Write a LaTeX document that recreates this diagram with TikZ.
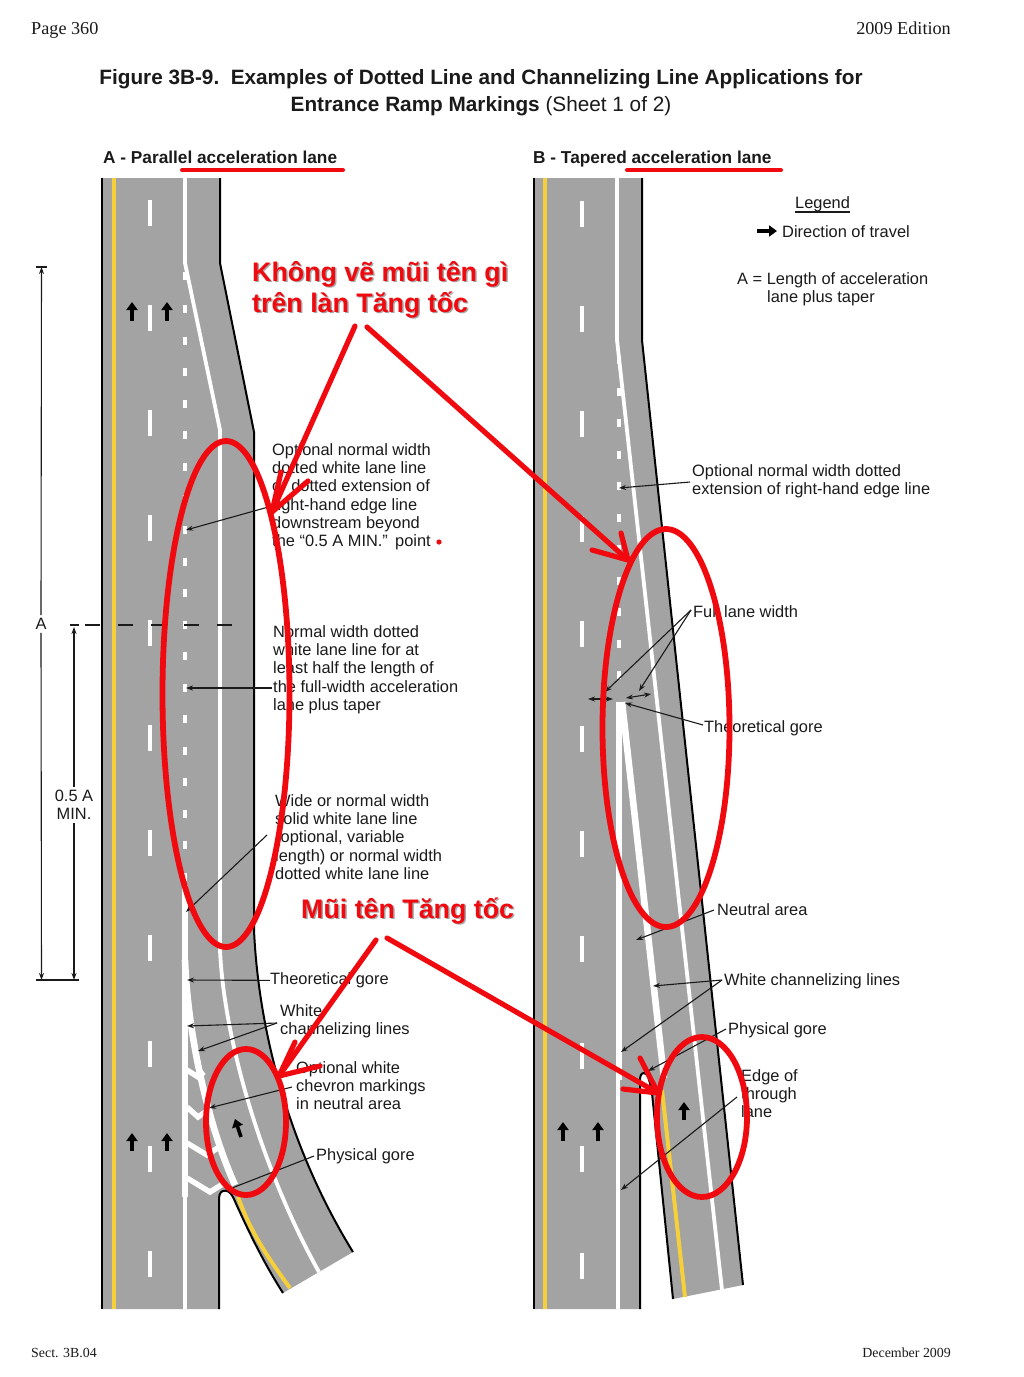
\documentclass[tikz,border=0pt]{standalone}
\usepackage{fontspec}
\setmainfont{Liberation Sans}
\newfontfamily\serifhead{Liberation Serif}
\usetikzlibrary{arrows.meta,calc}
\definecolor{roadgray}{HTML}{A3A3A3}
\definecolor{lineyellow}{HTML}{F6D03A}
\definecolor{markred}{HTML}{F00A0F}
\definecolor{ink}{HTML}{1A1A1A}
\tikzset{
  road/.style={fill=roadgray,draw=none},
  edgeline/.style={draw=black,line width=2pt},
  yellowline/.style={draw=lineyellow,line width=4pt},
  lanewhite/.style={draw=white,line width=3.8pt},
  channel/.style={draw=white,line width=6.6pt},
  chevron/.style={draw=white,line width=5.4pt,line join=miter},
  dashmark/.style={draw=white,line width=4pt},
  dotmark/.style={draw=white,line width=4.6pt},
  travel/.style={draw=black,line width=3.6pt,-{Triangle[length=8pt,width=11pt]}},
  leader/.style={draw=ink,line width=1.1pt,-{Stealth[length=7pt,width=5pt]}},
  dimline/.style={draw=ink,line width=1.1pt},
  dimend/.style={draw=ink,line width=1.1pt,{Stealth[length=7pt,width=5pt]}-},
  lab/.style={font=\fontsize{16.4}{18.2}\selectfont,text=ink,align=left,inner sep=0pt,anchor=north west},
  subhead/.style={font=\fontsize{17.25}{20}\selectfont\bfseries,text=ink,inner sep=0pt,anchor=base west},
  serifnote/.style={font=\fontsize{18.2}{20}\selectfont\serifhead,text=ink,inner sep=0pt},
  footnote/.style={font=\fontsize{13.9}{15}\selectfont\serifhead,text=ink,inner sep=0pt},
  redring/.style={draw=markred,line width=5.8pt},
  redstroke/.style={draw=markred,line width=5.2pt,line cap=round,line join=round},
  redunder/.style={draw=markred,line width=4pt,line cap=round},
  redtext/.style={font=\fontsize{26.8}{31}\selectfont\bfseries,text=markred,inner sep=0pt,anchor=base west},
  redshadow/.style={font=\fontsize{26.8}{31}\selectfont\bfseries,text=black!35,inner sep=0pt,anchor=base west},
}
\begin{document}
\begin{tikzpicture}[x=1pt,y=-1pt]
\useasboundingbox (0,0) rectangle (1024,1377);
\fill[white] (0,0) rectangle (1024,1377);
% ---------- headers
\node[serifnote,anchor=base west] (page) at (31,34) {Page 360};
\node[serifnote,anchor=base east] (edition) at (951,34) {2009 Edition};
\node[font=\fontsize{20.75}{26.6}\selectfont\bfseries,text=ink,inner sep=0pt,align=center,anchor=north] (title) at (481,69.5)
  {Figure 3B-9.\ \ Examples of Dotted Line and Channelizing Line Applications for\\Entrance Ramp Markings {\mdseries (Sheet 1 of 2)}};
\node[subhead] (heada) at (103,163) {A - Parallel acceleration lane};
\node[subhead] (headb) at (533,163) {B - Tapered acceleration lane};
\node[footnote,anchor=base west] (sect) at (31,1357) {Sect. 3B.04};
\node[footnote,anchor=base east] (dec) at (951,1357) {December 2009};
% ---------- road A
\path[road] (102,178) -- (220,178) -- (220,263) -- (254,432) -- (254,930)
  .. controls (258,1020) and (284,1140) .. (353,1252) -- (283,1293)
  .. controls (262,1260) and (247,1228) .. (233,1197)
  .. controls (230,1191) and (226,1190) .. (223,1191)
  .. controls (220,1192) and (219,1195) .. (219,1200) -- (219,1309) -- (102,1309) -- cycle;
\draw[yellowline] (114,178) -- (114,1309);
\draw[yellowline] (238,1197) .. controls (248,1225) and (262,1250) .. (290,1288);
\foreach \y in {200,305,410,515,620,725,830,935,1041,1146,1251}
  \draw[dashmark] (150,\y) -- (150,\y+26);
\draw[lanewhite] (185,178) -- (185,263) -- (220,430) -- (220,950)
  .. controls (224,1040) and (262,1170) .. (319,1272);
\foreach \y in {272,305,337,368,400,431,463,495,526,558,589,621,652,684,715,747,778,810,841,873}
  \draw[dotmark] (185,\y) -- (185,\y+8);
\draw[channel] (185,885) -- (185,1197);
\draw[lanewhite] (185,1197) -- (185,1309);
\draw[channel] (185,960) .. controls (188,1040) and (210,1130) .. (235,1185);
\draw[chevron] (187,1070) -- (198,1077) -- (204,1072);
\draw[chevron] (187,1107) -- (198,1117) -- (211,1108);
\draw[chevron] (187,1143) -- (207,1155) -- (219,1147);
\draw[chevron] (187,1178) -- (210,1192) -- (226,1182);
\draw[edgeline] (102,178) -- (102,1309);
\draw[edgeline] (220,178) -- (220,263) -- (254,432) -- (254,930)
  .. controls (258,1020) and (284,1140) .. (353,1252);
\draw[edgeline] (283,1293) .. controls (262,1260) and (247,1228) .. (233,1197)
  .. controls (230,1191) and (226,1190) .. (223,1191)
  .. controls (220,1192) and (219,1195) .. (219,1200) -- (219,1309);
\foreach \x in {132,167}{
  \draw[travel] (\x,321) -- (\x,302);
  \draw[travel] (\x,1151) -- (\x,1133);
}
\draw[travel] (241,1137) -- (235,1119);
% ---------- road B
\path[road] (534,178) -- (642,178) -- (642,340) -- (743,1285) -- (673,1299)
  -- (652,1093) .. controls (650,1082) and (648,1073) .. (644,1073)
  .. controls (641,1073) and (640,1076) .. (640,1081) -- (640,1309) -- (534,1309) -- cycle;
\draw[yellowline] (545,178) -- (545,1309);
\draw[yellowline] (662,1090) -- (685,1297);
\foreach \y in {201,306,411,516,621,726,831,936,1043,1146,1253}
  \draw[dashmark] (582,\y) -- (582,\y+26);
\draw[lanewhite] (617,178) -- (617,340) -- (722,1290);
\foreach \y in {356,388,419,451,482,514,545,577,608,640,671}
  \draw[dotmark] (619,\y) -- (619,\y+8);
\draw[channel] (619,702) -- (619,1080);
\draw[lanewhite] (618,1080) -- (618,1309);
\draw[channel] (622,702) -- (664,1078);
\draw[edgeline] (534,178) -- (534,1309);
\draw[edgeline] (642,178) -- (642,340) -- (743,1285);
\draw[edgeline] (673,1299) -- (652,1093) .. controls (650,1082) and (648,1073) .. (644,1073)
  .. controls (641,1073) and (640,1076) .. (640,1081) -- (640,1309);
\foreach \x in {563,598}
  \draw[travel] (\x,1141) -- (\x,1122);
\draw[travel] (684,1120) -- (684,1102);
% ---------- dimensions
\node[font=\fontsize{16.4}{18.2}\selectfont,text=ink,inner sep=3pt] (dima) at (41,624) {A};
\node[font=\fontsize{16.4}{18.2}\selectfont,text=ink,inner sep=3pt,align=center] (dimhalf) at (74,805) {0.5 A\\MIN.};
\coordinate (atop) at (41.5,267);
\coordinate (abot) at (41.5,980);
\coordinate (htop) at (74,627);
\coordinate (hbot) at (74,980);
\draw[dimline] (36,267) -- (47,267);
\draw[dimline] (36,980) -- (79,980);
\draw[dimend] (atop) -- (dima.north);
\draw[dimend] (abot) -- (dima.south);
\draw[dimend] (htop) -- (dimhalf.north);
\draw[dimend] (hbot) -- (dimhalf.south);
\draw[dimline] (70,625) -- (79,625);
\draw[dimline,dash pattern=on 15pt off 18pt] (85,625) -- (232,625);
% ---------- labels A
\node[lab] (a1) at (272,443.5) {Optional normal width\\dotted white lane line\\or dotted extension of\\right-hand edge line\\downstream beyond\\the “0.5 A MIN.”\ \,point};
\node[lab] (a2) at (273,625.5) {Normal width dotted\\white lane line for at\\least half the length of\\the full-width acceleration\\lane plus taper};
\node[lab] (a3) at (275,794.5) {Wide or normal width\\solid white lane line\\(optional, variable\\length) or normal width\\dotted white lane line};
\node[lab] (a4) at (270,972.5) {Theoretical gore};
\node[lab] (a5) at (280,1004.5) {White\\channelizing lines};
\node[lab] (a6) at (296,1061) {Optional white\\chevron markings\\in neutral area};
\node[lab] (a7) at (316,1148.5) {Physical gore};
\coordinate (a1s) at (272,506); \coordinate (a1e) at (186,530);
\coordinate (a2s) at (272,688); \coordinate (a2e) at (186,688);
\coordinate (a3s) at (267,835); \coordinate (a3e) at (186,912);
\coordinate (a4e) at (187,980);
\coordinate (a5s) at (277,1023); \coordinate (a5e) at (187,1026); \coordinate (a5f) at (198,1051);
\coordinate (a6s) at (292,1087); \coordinate (a6e) at (209,1108);
\coordinate (a7s) at (314,1156); \coordinate (a7e) at (232,1188);
\draw[leader] (a1s) -- (a1e);
\draw[leader] (a2s) -- (a2e);
\draw[leader] (a3s) -- (a3e);
\draw[leader] (a4.west) -- (a4e);
\draw[leader] (a5s) -- (a5e);
\draw[leader] (a5s) -- (a5f);
\draw[leader] (a6s) -- (a6e);
\draw[leader,-] (a7s) -- (a7e);
% ---------- labels B
\node[lab] (leg) at (795,196) {Legend};
\draw[draw=ink,line width=1.1pt] (795,212) -- (850,212);
\coordinate (ls) at (757,231); \coordinate (le) at (777,231);
\draw[travel] (ls) -- (le);
\node[lab] (l1) at (782,225) {Direction of travel};
\node[lab,align=left] (l2) at (737,272) {A = Length of acceleration\\\hspace*{30pt}lane plus taper};
\node[lab] (b1) at (692,464) {Optional normal width dotted\\extension of right-hand edge line};
\node[lab] (b2) at (693,605) {Full lane width};
\node[lab] (b3) at (704,720) {Theoretical gore};
\node[lab] (b4) at (717,903) {Neutral area};
\node[lab] (b5) at (724,973) {White channelizing lines};
\node[lab] (b6) at (728,1022) {Physical gore};
\node[lab] (b7) at (741,1069) {Edge of\\through\\lane};
\coordinate (b1s) at (690,482); \coordinate (b1e) at (619,488);
\coordinate (b2s) at (691,610); \coordinate (b2e) at (605,692); \coordinate (b2f) at (639,691);
\coordinate (wl1) at (588,699); \coordinate (wl2) at (613,699);
\coordinate (wr1) at (626,698); \coordinate (wr2) at (651,694);
\coordinate (b3s) at (703,725); \coordinate (b3e) at (625,703);
\coordinate (b4s) at (714,910); \coordinate (b4e) at (636,940);
\coordinate (b5s) at (722,980); \coordinate (b5e) at (653,986); \coordinate (b5f) at (621,1052);
\coordinate (b6s) at (726,1029); \coordinate (b6e) at (648,1071);
\coordinate (b7s) at (737,1097); \coordinate (b7e) at (621,1190);
\draw[leader] (b1s) -- (b1e);
\draw[leader] (b2s) -- (b2e);
\draw[leader] (b2s) -- (b2f);
\draw[leader,{Stealth[length=7pt,width=5pt]}-{Stealth[length=7pt,width=5pt]}] (wl1) -- (wl2);
\draw[leader,{Stealth[length=7pt,width=5pt]}-{Stealth[length=7pt,width=5pt]}] (wr1) -- (wr2);
\draw[leader] (b3s) -- (b3e);
\draw[leader] (b4s) -- (b4e);
\draw[leader] (b5s) -- (b5e);
\draw[leader] (b5s) -- (b5f);
\draw[leader] (b6s) -- (b6e);
\draw[leader] (b7s) -- (b7e);
% ---------- red annotations
\draw[redunder] (182,170) -- (343,170);
\draw[redunder] (627,170) -- (781,170);
\draw[redring] (226,694) ellipse [x radius=63.5,y radius=253];
\draw[redring] (666,728) ellipse [x radius=63.5,y radius=199];
\draw[redring] (702,1117) ellipse [x radius=45,y radius=80];
\draw[redring] (246,1122) ellipse [x radius=40,y radius=73];
\fill[markred] (439,542) circle (2.6);
\node[redshadow] (s1) at (253.5,282.5) {Không vẽ mũi tên gì};
\node[redshadow] (s2) at (253.5,313.5) {trên làn Tăng tốc};
\node[redshadow] (s3) at (302.5,919.5) {Mũi tên Tăng tốc};
\node[redtext] (r1) at (252,281) {Không vẽ mũi tên gì};
\node[redtext] (r2) at (252,312) {trên làn Tăng tốc};
\node[redtext] (r3) at (301,918) {Mũi tên Tăng tốc};
\coordinate (ra1) at (355,326); \coordinate (rt1) at (272,512);
\coordinate (ra2) at (367,327); \coordinate (rt2) at (628,560);
\coordinate (ra3) at (376,940); \coordinate (rt3) at (279,1076);
\coordinate (ra4) at (387,938); \coordinate (rt4) at (658,1093);
\draw[redstroke] (ra1) -- (rt1);
\draw[redstroke] (281,472) -- (rt1) -- (308,481);
\draw[redstroke] (ra2) -- (rt2);
\draw[redstroke] (621,533) -- (rt2) -- (592,550);
\draw[redstroke] (ra3) -- (rt3);
\draw[redstroke] (295,1042) -- (rt3) -- (320,1066);
\draw[redstroke] (ra4) -- (rt4);
\draw[redstroke] (640,1058) -- (rt4) -- (623,1089);
\end{tikzpicture}
\end{document}
